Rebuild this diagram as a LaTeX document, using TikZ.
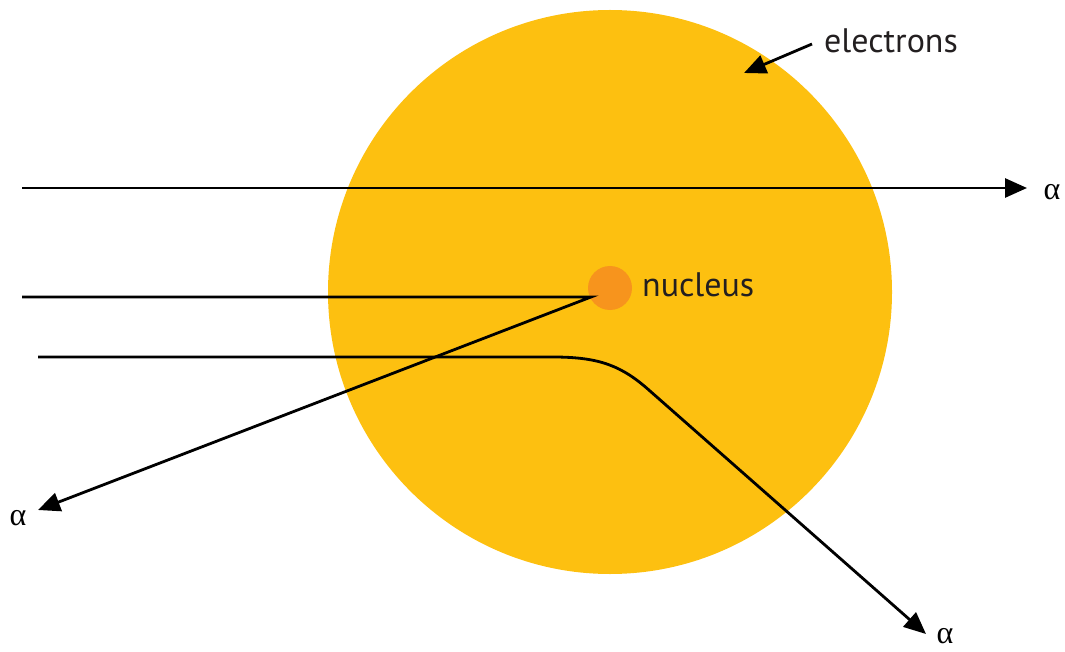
\documentclass[tikz,border=0pt]{standalone}
\usepackage{fontspec}
\setmainfont{PT Sans}
\newfontfamily\alphafont{Liberation Serif}
\usetikzlibrary{arrows.meta}
\definecolor{atom}{HTML}{FDC010}
\definecolor{nuc}{HTML}{F7941D}
\definecolor{txt}{HTML}{231F20}
\begin{document}
\begin{tikzpicture}[x=1pt,y=-1pt,
  ray/.style={line width=2.8pt,-{Triangle[length=22pt,width=19pt]}},
  lbl/.style={font=\fontsize{34}{38}\selectfont,text=txt,inner sep=0pt},
  alab/.style={font=\alphafont\fontsize{32}{34}\selectfont,inner sep=0pt}]
\useasboundingbox (0,0) rectangle (1065,652);
\fill[atom] (610,292) circle (282);
\fill[nuc] (610,288) circle (22);
\node[lbl,anchor=base west] (nl) at (642,297) {nucleus};
\node[lbl,anchor=base west] (el) at (824,53) {electrons};
\coordinate (et) at (744,73);
\draw[ray] (812,44) -- (et);
% ray 1
\coordinate (s1) at (22,188);
\coordinate (e1) at (1027,188);
\node[alab] (a1) at (1052,192) {α};
\draw[ray] (s1) -- (e1);
% ray 2
\coordinate (s2) at (22,297);
\coordinate (h2) at (591,297);
\coordinate (e2) at (38,510);
\node[alab] (a2) at (18,518) {α};
\draw[ray] (s2) -- (h2) -- (e2);
% ray 3
\coordinate (s3) at (38,357);
\coordinate (c3) at (553,357);
\coordinate (d3) at (650,391);
\coordinate (e3) at (926,634);
\node[alab] (a3) at (945,636) {α};
\draw[ray] (s3) -- (c3) .. controls (600,357) and (622,366) .. (d3) -- (e3);
\end{tikzpicture}
\end{document}
